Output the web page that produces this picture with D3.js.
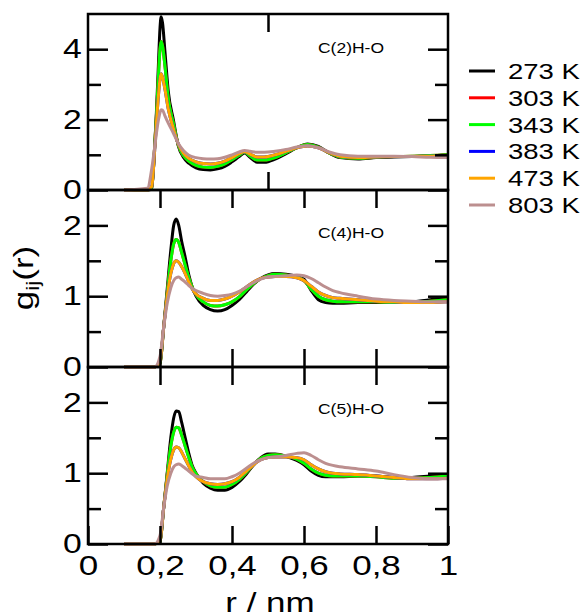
<!DOCTYPE html>
<html>
<head>
<meta charset="utf-8">
<script src="https://cdn.jsdelivr.net/npm/d3@7"></script>
<style>
  body { margin: 0; background: #fff; }
  svg { display: block; font-family: "Liberation Sans", Arial, sans-serif; }
</style>
</head>
<body>
<div id="chart"></div>
<script>
// temperatures / legend
const temps = ['273 K', '303 K', '343 K', '383 K', '473 K', '803 K'];
const colors = ['#000000', '#ff0000', '#00ff00', '#0000ff', '#ffa500', '#bc8f8f'];

// panel 1: C(2)H-O
const r1 = [0.1, 0.165, 0.177, 0.185, 0.19, 0.195, 0.2, 0.203, 0.207, 0.214, 0.223, 0.237, 0.251, 0.265, 0.28, 0.3, 0.32, 0.34, 0.36, 0.38, 0.4, 0.42, 0.435, 0.45, 0.47, 0.49, 0.52, 0.55, 0.58, 0.61, 0.64, 0.67, 0.7, 0.75, 0.8, 0.85, 0.9, 0.95, 1.0];
const c2_273 = [0, 0, 0.02, 1.2, 2.2, 3.4, 4.6, 4.92, 4.75, 3.9, 2.8, 2.0, 1.25, 0.93, 0.76, 0.63, 0.58, 0.57, 0.6, 0.67, 0.8, 0.95, 1.05, 0.93, 0.79, 0.79, 0.88, 1.03, 1.2, 1.31, 1.24, 1.05, 0.92, 0.88, 0.92, 0.94, 0.95, 0.97, 1.0];
const c2_343 = [0, 0, 0.05, 1.2, 2.1, 3.1, 4.0, 4.22, 4.1, 3.5, 2.6, 1.9, 1.27, 0.98, 0.82, 0.7, 0.65, 0.64, 0.67, 0.74, 0.86, 0.99, 1.07, 0.97, 0.85, 0.85, 0.92, 1.06, 1.2, 1.29, 1.22, 1.05, 0.94, 0.9, 0.93, 0.95, 0.96, 0.98, 1.0];
const c2_303 = c2_343; // hidden under 343 K
const c2_473 = [0, 0, 0.1, 1.1, 1.9, 2.6, 3.15, 3.3, 3.2, 2.85, 2.3, 1.75, 1.3, 1.05, 0.9, 0.8, 0.75, 0.74, 0.76, 0.82, 0.92, 1.03, 1.09, 1.02, 0.94, 0.94, 1.0, 1.1, 1.2, 1.25, 1.2, 1.06, 0.96, 0.92, 0.94, 0.95, 0.95, 0.96, 0.97];
const c2_383 = c2_473; // hidden under 473 K
const c2_803 = [0, 0.05, 0.6, 1.2, 1.6, 1.95, 2.2, 2.28, 2.27, 2.1, 1.9, 1.62, 1.32, 1.12, 0.99, 0.92, 0.89, 0.88, 0.89, 0.93, 1.0, 1.08, 1.12, 1.1, 1.07, 1.07, 1.1, 1.15, 1.22, 1.26, 1.2, 1.08, 1.0, 0.96, 0.96, 0.96, 0.95, 0.93, 0.92];

// panels 2 and 3 share the r grid
const r2 = [0.1, 0.185, 0.2, 0.21, 0.22, 0.23, 0.238, 0.245, 0.252, 0.26, 0.27, 0.28, 0.29, 0.3, 0.32, 0.34, 0.36, 0.38, 0.4, 0.42, 0.44, 0.46, 0.48, 0.5, 0.52, 0.55, 0.58, 0.6, 0.62, 0.64, 0.66, 0.68, 0.7, 0.75, 0.8, 0.85, 0.9, 0.95, 1.0];

// panel 2: C(4)H-O
const c4_273 = [0, 0, 0.05, 0.55, 1.1, 1.65, 2.0, 2.09, 2.0, 1.78, 1.55, 1.3, 1.12, 1.0, 0.87, 0.81, 0.79, 0.81, 0.87, 0.95, 1.06, 1.17, 1.25, 1.3, 1.32, 1.31, 1.28, 1.24, 1.08, 0.95, 0.91, 0.9, 0.9, 0.91, 0.91, 0.91, 0.92, 0.95, 0.97];
const c4_343 = [0, 0, 0.05, 0.55, 1.05, 1.5, 1.74, 1.8, 1.76, 1.62, 1.44, 1.26, 1.12, 1.02, 0.92, 0.87, 0.86, 0.88, 0.92, 0.99, 1.09, 1.18, 1.25, 1.29, 1.31, 1.3, 1.27, 1.22, 1.1, 1.0, 0.95, 0.93, 0.92, 0.92, 0.92, 0.91, 0.91, 0.93, 0.95];
const c4_303 = c4_343;
const c4_473 = [0, 0, 0.08, 0.55, 1.0, 1.32, 1.46, 1.5, 1.48, 1.42, 1.32, 1.2, 1.1, 1.03, 0.97, 0.94, 0.94, 0.96, 1.0, 1.06, 1.13, 1.2, 1.25, 1.27, 1.28, 1.28, 1.26, 1.22, 1.14, 1.06, 1.01, 0.98, 0.97, 0.95, 0.93, 0.92, 0.91, 0.91, 0.92];
const c4_383 = c4_473;
const c4_803 = [0, 0, 0.15, 0.55, 0.9, 1.12, 1.22, 1.26, 1.27, 1.24, 1.2, 1.15, 1.11, 1.08, 1.04, 1.01, 1.0, 1.01, 1.03, 1.07, 1.13, 1.19, 1.24, 1.27, 1.28, 1.29, 1.3, 1.29, 1.25, 1.19, 1.13, 1.08, 1.05, 1.0, 0.96, 0.94, 0.93, 0.92, 0.92];

// panel 3: C(5)H-O
const c5_273 = [0, 0, 0.03, 0.5, 1.0, 1.5, 1.78, 1.88, 1.87, 1.72, 1.5, 1.28, 1.1, 1.0, 0.86, 0.79, 0.76, 0.76, 0.8, 0.88, 0.99, 1.12, 1.22, 1.27, 1.27, 1.24, 1.18, 1.12, 1.03, 0.97, 0.95, 0.95, 0.95, 0.96, 0.96, 0.94, 0.94, 0.96, 0.98];
const c5_343 = [0, 0, 0.03, 0.5, 0.98, 1.38, 1.58, 1.65, 1.64, 1.54, 1.38, 1.22, 1.08, 0.99, 0.88, 0.82, 0.8, 0.8, 0.84, 0.91, 1.01, 1.12, 1.21, 1.25, 1.26, 1.24, 1.2, 1.14, 1.06, 1.0, 0.97, 0.96, 0.96, 0.96, 0.95, 0.93, 0.93, 0.94, 0.96];
const c5_303 = c5_343;
const c5_473 = [0, 0, 0.05, 0.5, 0.92, 1.2, 1.33, 1.37, 1.36, 1.3, 1.2, 1.1, 1.01, 0.95, 0.88, 0.85, 0.84, 0.85, 0.88, 0.94, 1.03, 1.12, 1.19, 1.22, 1.23, 1.23, 1.22, 1.19, 1.12, 1.06, 1.02, 1.0, 0.99, 0.98, 0.96, 0.94, 0.92, 0.92, 0.93];
const c5_383 = c5_473;
const c5_803 = [0, 0, 0.12, 0.5, 0.82, 1.0, 1.09, 1.12, 1.13, 1.11, 1.07, 1.03, 0.99, 0.96, 0.94, 0.92, 0.92, 0.92, 0.95, 1.0, 1.07, 1.14, 1.19, 1.22, 1.23, 1.25, 1.28, 1.29, 1.25, 1.19, 1.14, 1.11, 1.09, 1.06, 1.03, 0.98, 0.94, 0.92, 0.92];

const panels = [
    {label: 'C(2)H-O', r: r1, series: [c2_273, c2_303, c2_343, c2_383, c2_473, c2_803],
     ymax: 5, yMajor: [0, 2, 4], yMinor: [1, 3], xTicks: [0.5], top: 14, bottom: 190, labelY: 53},
    {label: 'C(4)H-O', r: r2, series: [c4_273, c4_303, c4_343, c4_383, c4_473, c4_803],
     ymax: 2.5, yMajor: [0, 1, 2], yMinor: [0.5, 1.5], xTicks: [0.2, 0.4, 0.6, 0.8], top: 190, bottom: 367, labelY: 237.5},
    {label: 'C(5)H-O', r: r2, series: [c5_273, c5_303, c5_343, c5_383, c5_473, c5_803],
     ymax: 2.5, yMajor: [0, 1, 2], yMinor: [0.5, 1.5], xTicks: [0.2, 0.4, 0.6, 0.8], top: 367, bottom: 544, labelY: 414}
];
const xLabels = [0, 0.2, 0.4, 0.6, 0.8, 1];

let width = 584,
    height = 616,
    left = 88,
    right = 448,
    stretch = 1.25;   // the reference's text is drawn wide

let svg = d3.select('#chart').append('svg')
    .attr('width', width)
    .attr('height', height);

let x = d3.scaleLinear()
    .domain([0, 1])
    .range([left, right]);

function styleAxis(g) {
    g.select('.domain').remove();
    g.selectAll('.tick line')
        .attr('stroke', '#000')
        .attr('stroke-width', 2.5);
}

panels.forEach(function (p, i) {
    let y = d3.scaleLinear()
        .domain([0, p.ymax])
        .range([p.bottom, p.top]);

    let line = d3.line()
        .x((d, k) => x(p.r[k]))
        .y(d => y(d))
        .curve(d3.curveMonotoneX);

    let g = svg.append('g');

    // curves
    g.selectAll('.curve')
        .data(p.series)
        .join('path')
        .attr('class', 'curve')
        .attr('d', line)
        .attr('fill', 'none')
        .attr('stroke', (d, k) => colors[k])
        .attr('stroke-width', 3)
        .attr('stroke-linejoin', 'round');

    // y ticks, left with labels
    g.append('g')
        .attr('transform', `translate(${left},0)`)
        .call(d3.axisLeft(y).tickValues(p.yMajor).tickSize(-20).tickPadding(5).tickFormat(d3.format('d')))
        .call(styleAxis)
        .call(a => a.selectAll('text')
            .attr('font-size', 27)
            .attr('font-family', null)
            .attr('fill', '#000')
            .attr('transform', `scale(${stretch},1)`));
    g.append('g')
        .attr('transform', `translate(${left},0)`)
        .call(d3.axisLeft(y).tickValues(p.yMinor).tickSize(-13).tickFormat(''))
        .call(styleAxis);
    g.append('g')
        .attr('transform', `translate(${right},0)`)
        .call(d3.axisRight(y).tickValues(p.yMajor).tickSize(-20).tickFormat(''))
        .call(styleAxis);
    g.append('g')
        .attr('transform', `translate(${right},0)`)
        .call(d3.axisRight(y).tickValues(p.yMinor).tickSize(-13).tickFormat(''))
        .call(styleAxis);

    // x ticks top / bottom
    g.append('g')
        .attr('transform', `translate(0,${p.top})`)
        .call(d3.axisTop(x).tickValues(p.xTicks).tickSize(-18).tickFormat(''))
        .call(styleAxis);
    let bottomAxis = d3.axisBottom(x).tickValues(p.xTicks).tickSize(-18).tickFormat('');
    if (i === panels.length - 1) {
        bottomAxis = d3.axisBottom(x).tickValues(xLabels).tickSize(-18).tickPadding(11)
            .tickFormat(d => String(d).replace('.', ','));
    }
    g.append('g')
        .attr('transform', `translate(0,${p.bottom})`)
        .call(bottomAxis)
        .call(styleAxis)
        .call(a => a.selectAll('text')
            .attr('font-size', 28)
            .attr('font-family', null)
            .attr('fill', '#000')
            .attr('transform', `scale(${stretch},1)`));

    // frame
    g.append('rect')
        .attr('x', left)
        .attr('y', p.top)
        .attr('width', right - left)
        .attr('height', p.bottom - p.top)
        .attr('fill', 'none')
        .attr('stroke', '#000')
        .attr('stroke-width', 2.5);

    g.append('text')
        .attr('transform', `translate(318,${p.labelY}) scale(${stretch},1)`)
        .attr('font-size', 14)
        .text(p.label);
});

// axis titles
let yTitle = svg.append('text')
    .attr('transform', `translate(33,278) rotate(-90) scale(${stretch},1)`)
    .attr('text-anchor', 'middle')
    .attr('font-size', 28);
yTitle.append('tspan').text('g');
yTitle.append('tspan').attr('font-size', 18).attr('dy', 6).text('ij');
yTitle.append('tspan').attr('dy', -6).text('(r)');

svg.append('text')
    .attr('transform', `translate(270,612) scale(${stretch},1)`)
    .attr('text-anchor', 'middle')
    .attr('font-size', 28)
    .text('r / nm');

// legend
let legend = svg.append('g')
    .selectAll('g')
    .data(temps)
    .join('g')
    .attr('transform', (d, k) => `translate(0,${71 + k * 26.8})`);

legend.append('line')
    .attr('x1', 469)
    .attr('x2', 495)
    .attr('stroke', (d, k) => colors[k])
    .attr('stroke-width', 3);

legend.append('text')
    .attr('transform', `translate(508,8) scale(${stretch},1)`)
    .attr('font-size', 22)
    .text(d => d);
</script>
</body>
</html>
